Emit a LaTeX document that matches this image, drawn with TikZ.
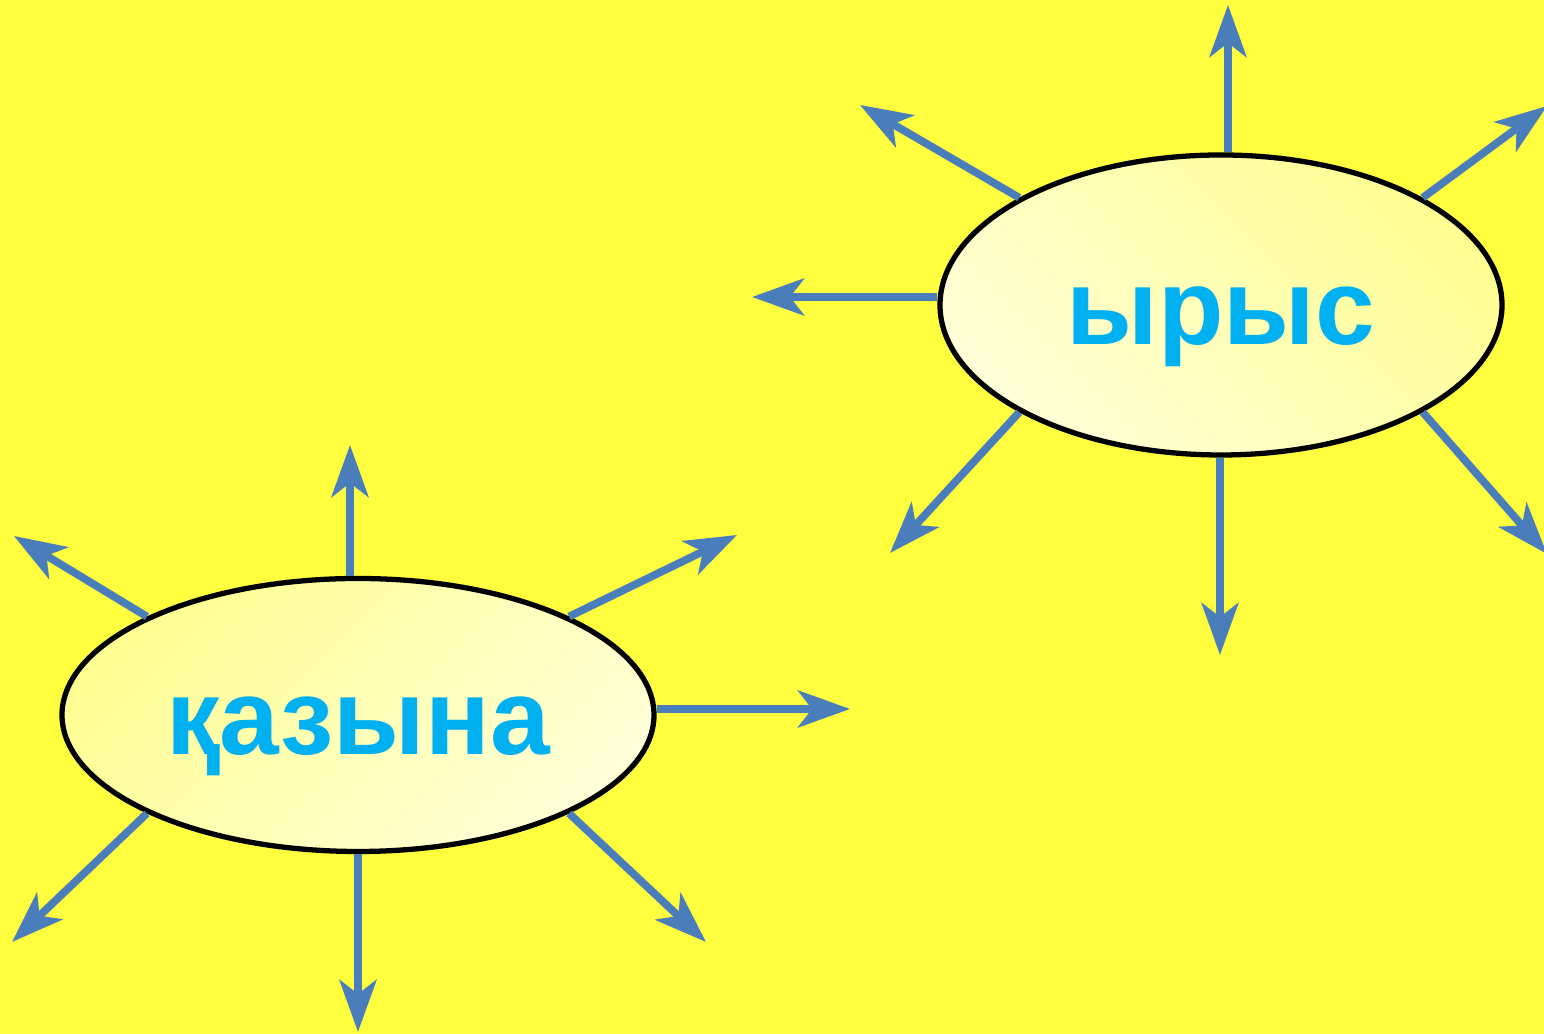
\documentclass[tikz,border=0pt]{standalone}
\usepackage{fontspec}
\setmainfont{Liberation Sans}
\usepackage{tikz}
\usetikzlibrary{arrows.meta}
\usetikzlibrary{shapes.geometric}
\definecolor{bgyellow}{HTML}{FFFF40}
\definecolor{rayblue}{HTML}{4A7EBB}
\definecolor{wordblue}{HTML}{00B0F0}
\definecolor{paleyellow}{HTML}{FFFFD8}
\definecolor{softyellow}{HTML}{FFFF94}
\tikzset{ray/.style = {draw = rayblue, line width = 2.2pt,
                       -{Stealth[length = 14.8pt, width = 10.5pt, inset = 4pt]}}}
\tikzset{blob/.style = {ellipse, draw, line width = 1.5pt, inner sep = 0,
                        text = wordblue, text height = 22.6pt, text depth = 0pt,
                        font = \fontsize{30.5}{36}\selectfont\bfseries}}

\begin{document}
\begin{tikzpicture}
    \fill [bgyellow] (0, 0) rectangle (15.44, 10.34);
    \useasboundingbox (0, 0) rectangle (15.44, 10.34);
    \node [blob, minimum width = 5.62cm, minimum height = 3.00cm,
           bottom color = paleyellow, top color = softyellow, shading angle = -45]
          (yrys) at (12.21, 7.29) {ырыс};
    \node [blob, minimum width = 5.92cm, minimum height = 2.73cm,
           bottom color = paleyellow, top color = softyellow, shading angle = 45]
          (qazyna) at (3.58, 3.19) {қазына};
    \coordinate (yt) at (12.28, 10.29);
    \coordinate (yul) at (8.60, 9.29);
    \coordinate (yur) at (15.47, 9.28);
    \coordinate (yl) at (7.52, 7.37);
    \coordinate (yll) at (8.90, 4.81);
    \coordinate (yb) at (12.20, 3.79);
    \coordinate (ylr) at (15.47, 4.80);
    \draw [ray] (yt |- yrys.north) -- (yt);
    \draw [ray] (yrys.152) -- (yul);
    \draw [ray] (yrys.28) -- (yur);
    \draw [ray] (yrys.west |- yl) -- (yl);
    \draw [ray] (yrys.208) -- (yll);
    \draw [ray] (yb |- yrys.south) -- (yb);
    \draw [ray] (yrys.332) -- (ylr);
    \coordinate (kt) at (3.50, 5.89);
    \coordinate (kul) at (0.14, 4.98);
    \coordinate (kur) at (7.37, 4.99);
    \coordinate (kr) at (8.50, 3.25);
    \coordinate (kll) at (0.12, 0.92);
    \coordinate (kb) at (3.58, 0.02);
    \coordinate (klr) at (7.06, 0.92);
    \draw [ray] (kt |- qazyna.north) -- (kt);
    \draw [ray] (qazyna.155) -- (kul);
    \draw [ray] (qazyna.25) -- (kur);
    \draw [ray] (qazyna.east |- kr) -- (kr);
    \draw [ray] (qazyna.205) -- (kll);
    \draw [ray] (kb |- qazyna.south) -- (kb);
    \draw [ray] (qazyna.335) -- (klr);
  \end{tikzpicture}
\end{document}
